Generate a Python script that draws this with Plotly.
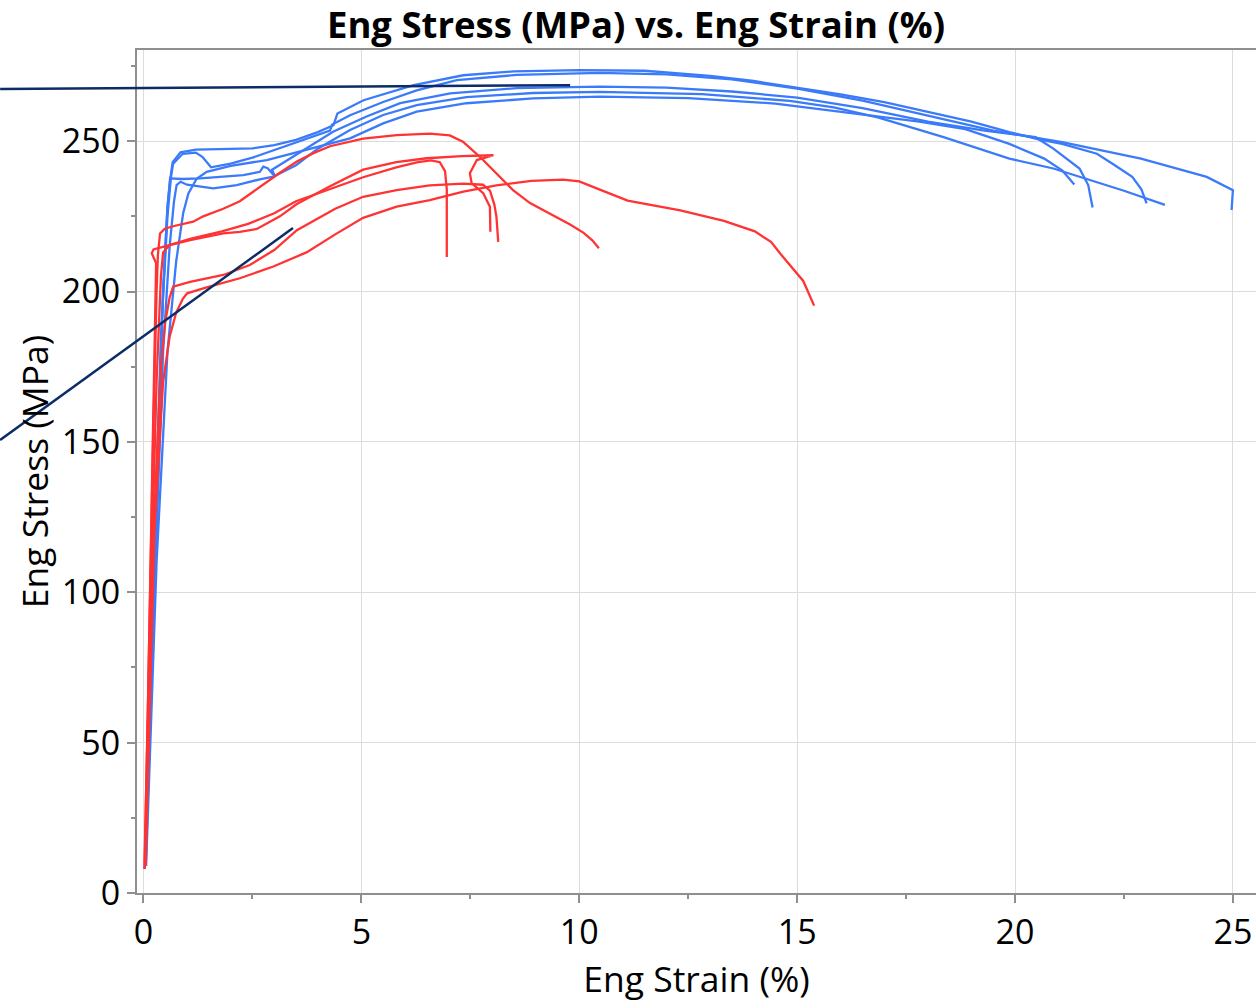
import plotly.graph_objects as go

# ---------------- data ----------------
# Blue specimens
strain_b1 = [0.03,0.15,0.30,0.45,0.55,0.62,0.67,0.85,1.20,2.00,2.50,3.00,3.50,4.00,4.36,4.45,5.05,6.20,7.34,8.50,10.0,11.5,13.0,14.0,15.0,16.0,17.0,18.0,19.0,19.87,20.57,21.08,21.88,22.29,22.69,22.90,23.02]
stress_b1 = [8,70,140,200,228,238,243,246.3,247.2,247.4,247.6,248.7,250.4,253,255.3,259.2,263.6,268.6,271.9,273.2,273.6,273.4,271.7,270,267.8,265.5,263,259.8,256.5,253,250.5,249.1,245.8,242,238.1,234,229.3]

strain_b2 = [0.04,0.20,0.40,0.55,0.63,0.68,0.90,1.20,1.35,1.55,2.00,2.50,3.00,3.50,4.28,4.33,4.74,5.50,6.27,7.19,8.56,10.47,12.0,13.5,15.0,16.5,18.0,19.5,21.08,22.89,24.40,25.00,24.97]
stress_b2 = [9,90,185,225,238,242.5,245.8,246.2,244.8,241.3,242.5,244.5,247,249.5,253.5,255.5,258.6,263,266.9,270.3,272,272.7,272.2,270.5,267.5,263.5,258.5,253.5,249.7,244.2,238.1,233.7,227.1]

strain_b3 = [0.05,0.25,0.45,0.55,0.61,0.90,1.30,2.29,2.67,2.75,2.85,3.02,2.95,3.50,4.36,5.12,5.89,7.04,8.56,10.47,12.0,13.5,15.0,16.5,18.0,19.3,20.47,20.88,21.48,21.68,21.78]
stress_b3 = [9,110,200,228,237.6,237.4,237.6,238.7,239.8,241.5,241,238.2,240.5,245.5,253.2,258.2,262.6,265.9,267.6,268.1,267.8,266.5,264.5,261,256.5,253.5,251.3,247.5,240.9,235.4,227.9]

strain_b4 = [0.05,0.25,0.45,0.60,0.70,0.76,0.85,1.00,1.60,2.14,2.67,2.98,3.50,4.00,4.74,5.50,6.27,7.41,8.94,10.47,12.82,14.83,15.84,16.85,18.36,19.87,20.88,22.50,23.44]
stress_b4 = [9,100,180,215,230,235.4,236.5,235.5,234.3,235.4,237.3,238.2,242,247.5,253.7,258.7,262,264.6,266,266.4,265.6,263.4,261.2,257.9,251.3,244.2,240.9,233.5,228.8]

strain_b5 = [0.06,0.30,0.55,0.75,0.85,0.91,1.03,1.22,1.45,2.00,2.83,3.59,4.74,5.50,6.27,7.41,8.94,10.47,12.5,14.5,16.5,17.8,18.86,19.87,20.67,21.08,21.36]
stress_b5 = [9,110,180,210,220,226,232.6,237.5,239.8,241.8,243.7,246.5,250.9,255.9,259.8,262.6,264.2,264.8,264.3,262.5,259,256.5,254,249.1,244.2,240.3,235.6]

# Red specimens
strain_r1 = [0.03,0.12,0.22,0.30,0.33,0.38,0.49,0.68,1.14,1.37,1.83,2.21,2.74,3.13,3.52,3.90,4.28,5.04,5.81,6.57,7.03,7.33,7.72,8.10,8.48,8.87,9.30,9.80,10.10,10.30,10.45]
stress_r1 = [10,80,150,200,212,219.3,220.9,221.7,223.2,225,227.5,230,235.5,239.5,243.2,246,248.3,250.8,252,252.5,251.9,249.8,244.8,239.3,233.7,229.4,226,222.2,219.5,217,214.4]

strain_r2 = [0.02,0.10,0.20,0.27,0.29,0.19,0.23,0.53,1.07,1.83,2.21,2.60,3.13,3.51,4.28,5.04,5.80,6.50,7.30,8.03,7.65,7.49,7.53,7.80,7.95,7.96]
stress_r2 = [8,60,140,195,209.4,212.7,214,215.2,217.1,219.3,219.8,220.8,225,229,235,240.5,243,244.3,245,245.3,243.7,239.3,236,232.6,228.2,219.9]

strain_r3 = [0.04,0.15,0.30,0.40,0.45,0.60,1.07,1.80,2.40,3.00,3.50,4.28,5.04,5.80,6.30,6.60,6.80,6.92,6.96,6.96]
stress_r3 = [9,90,170,205,213,215.5,217.5,220,222.5,226,230,234,238,241.3,243,243.6,243,240,234,211.5]

strain_r4 = [0.04,0.20,0.40,0.50,0.60,0.68,1.07,1.83,2.44,3.00,3.52,4.40,5.04,5.81,6.57,7.34,7.79,7.95,8.05,8.10,8.14]
stress_r4 = [9,110,175,190,198,201.6,203.2,205.5,208.8,213.8,220.4,227.5,231.5,233.7,235.3,235.9,235.5,233.5,229,224.8,216.5]

strain_r5 = [0.05,0.25,0.45,0.60,0.75,0.90,1.00,1.45,2.21,2.98,3.74,4.40,5.04,5.81,6.57,7.34,8.10,8.90,9.63,10.00,10.40,11.11,12.32,13.32,14.03,14.40,14.63,15.14,15.39]
stress_r5 = [10,120,170,185,193,197.5,199.4,201.4,204.4,208.3,213,219,224.5,228.2,230.4,233.2,235.3,236.8,237.2,236.6,234.3,230.2,227,223.5,220,216.5,212.3,203.5,195.3]

# Callout leader lines (data units, extend beyond the axes)
callout_top_x = [-3.29, 9.79]
callout_top_y = [267.3, 268.6]
callout_low_x = [-3.29, 3.43]
callout_low_y = [150.6, 221.1]

x_ticks = [0, 5, 10, 15, 20, 25]
y_ticks = [0, 50, 100, 150, 200, 250]

# ---------------- styling ----------------
BLUE = "#3b7bfa"
RED = "#ff3333"
NAVY = "#0b2c66"
FONT = "Open Sans"
XR = [-0.149, 25.53]
YR = [0, 280.3]
W, H = 1256, 1008

fig = go.Figure()
blue = [(strain_b1, stress_b1), (strain_b2, stress_b2), (strain_b3, stress_b3),
        (strain_b4, stress_b4), (strain_b5, stress_b5)]
red = [(strain_r1, stress_r1), (strain_r2, stress_r2), (strain_r3, stress_r3),
       (strain_r4, stress_r4), (strain_r5, stress_r5)]
for xs, ys in blue:
    fig.add_trace(go.Scatter(x=xs, y=ys, mode="lines",
                             line=dict(color=BLUE, width=2.3), hoverinfo="skip"))
for xs, ys in red:
    fig.add_trace(go.Scatter(x=xs, y=ys, mode="lines",
                             line=dict(color=RED, width=2.3), hoverinfo="skip"))

def px(v):
    return (v - XR[0]) / (XR[1] - XR[0])

def py(v):
    return (v - YR[0]) / (YR[1] - YR[0])

for cx, cy in [(callout_top_x, callout_top_y), (callout_low_x, callout_low_y)]:
    fig.add_shape(type="line", xref="paper", yref="paper",
                  x0=px(cx[0]), y0=py(cy[0]), x1=px(cx[1]), y1=py(cy[1]),
                  line=dict(color=NAVY, width=2.5), layer="above")

axis_common = dict(
    showgrid=True, gridcolor="#dcdcdc", gridwidth=1,
    showline=True, linecolor="#8f8f8f", linewidth=2, mirror=True,
    ticks="outside", ticklen=8, tickwidth=1.5, tickcolor="#8f8f8f",
    zeroline=False, automargin=False,
    tickfont=dict(family=FONT, size=34, color="#000000"),
)

fig.update_layout(
    width=W, height=H,
    margin=dict(l=137, r=0, t=50, b=115, autoexpand=False),
    plot_bgcolor="white", paper_bgcolor="white",
    showlegend=False,
    title=dict(text="<b>Eng Stress (MPa) vs. Eng Strain (%)</b>",
               x=636 / W, xanchor="center", y=1 - 25 / H, yanchor="middle",
               font=dict(family=FONT, size=36.5, color="#000000")),
    xaxis=dict(range=XR, tickvals=x_ticks, ticktext=[str(v) for v in x_ticks],
               minor=dict(dtick=2.5, tick0=0, ticks="outside", ticklen=4,
                          tickcolor="#8f8f8f", showgrid=False),
               title=dict(text="Eng Strain (%)", standoff=10,
                          font=dict(family=FONT, size=35.5, color="#000000")),
               **axis_common),
    yaxis=dict(range=YR, tickvals=y_ticks, ticktext=[str(v) for v in y_ticks],
               minor=dict(dtick=25, tick0=0, ticks="outside", ticklen=4,
                          tickcolor="#8f8f8f", showgrid=False),
               title=dict(text="Eng Stress (MPa)", standoff=2,
                          font=dict(family=FONT, size=35.5, color="#000000")),
               **axis_common),
)

# remove the default 8px page margin so the figure sits at the window origin
fig.write_html("out.html",
               config={"displayModeBar": False},
               post_script="document.body.style.margin='0';document.body.style.overflow='hidden';")
